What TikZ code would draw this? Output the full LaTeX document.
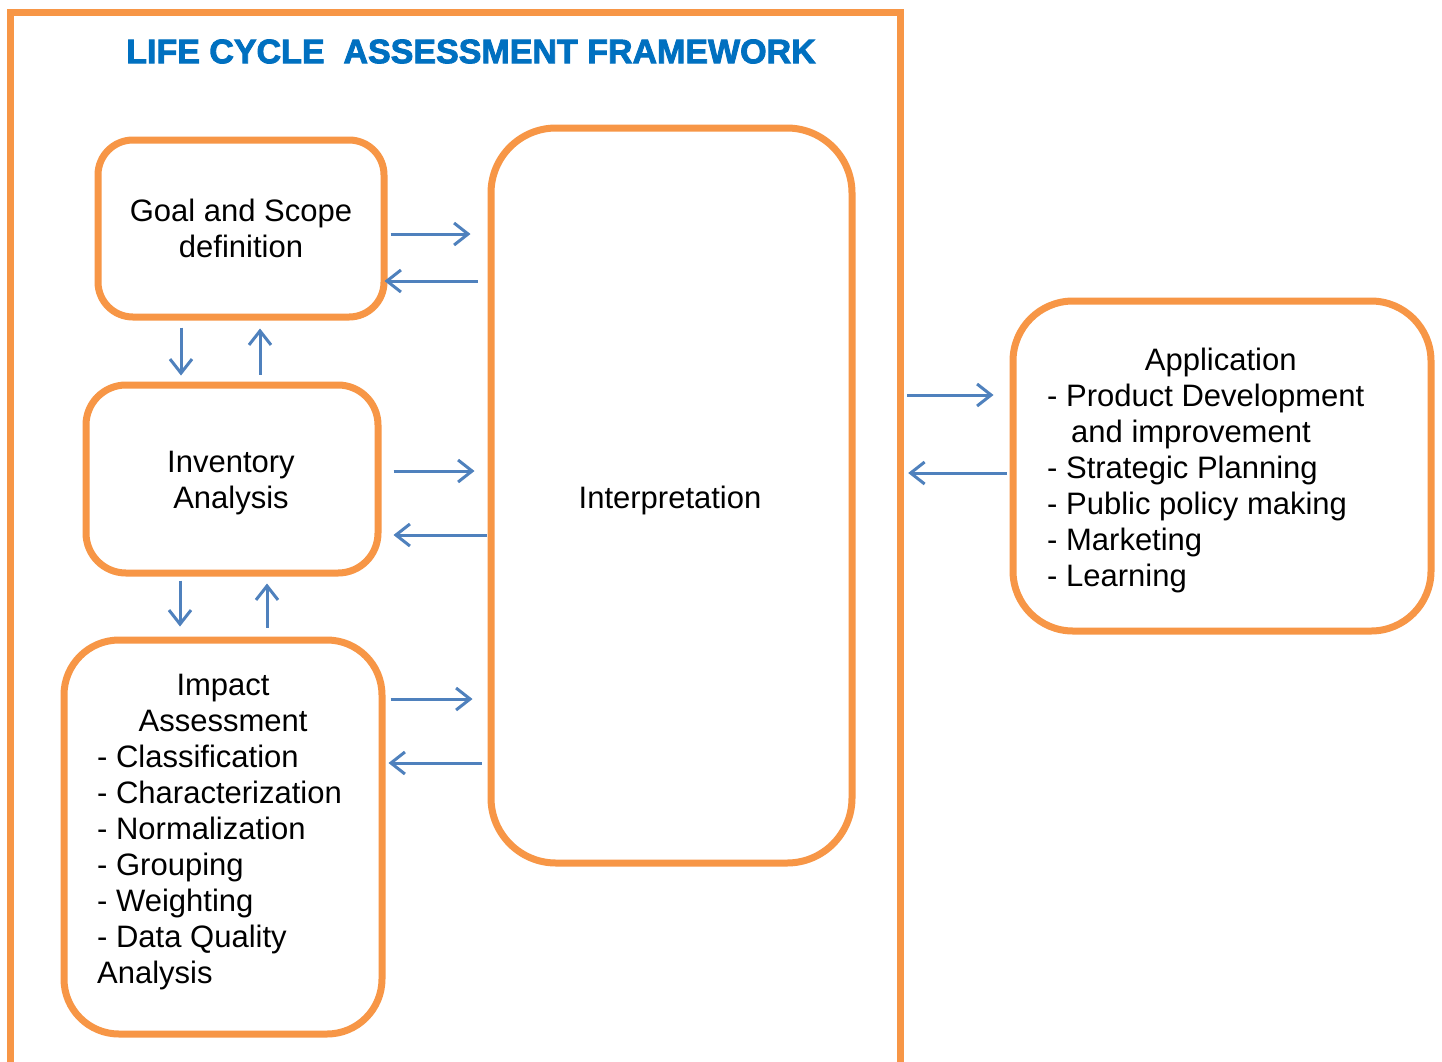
\documentclass[tikz,border=0pt]{standalone}
\usepackage{fontspec}
\setmainfont{Liberation Sans}
\newfontfamily\lcatitlefont[FakeBold=2.5]{Liberation Sans}
\usetikzlibrary{calc,arrows.meta}
\definecolor{lcaorange}{HTML}{F79646}
\definecolor{lcablue}{HTML}{4F81BD}
\definecolor{lcatitle}{HTML}{0070C0}
\tikzset{
  box/.style={draw=lcaorange, line width=7pt, fill=white, inner sep=0pt, align=center,
    font=\fontsize{31}{36}\selectfont},
  arr/.style={draw=lcablue, line width=3pt, -{Straight Barb[length=14pt,width=22pt,line width=3pt]}},
  txt/.style={inner sep=0pt, align=center, font=\fontsize{31}{36}\selectfont},
}
\begin{document}
\begin{tikzpicture}[x=1pt,y=-1pt]
\useasboundingbox[fill=white] (0,0) rectangle (1442,1061);
% outer frame (open at the bottom)
\node[inner sep=0pt, minimum width=889pt, minimum height=1062pt] (frame) at (455.5,544) {};
\draw[lcaorange, line width=7pt] (frame.south west) -- (frame.north west) -- (frame.north east) -- (frame.south east);
\node[inner sep=0pt, text=lcatitle, font=\fontsize{34}{40}\lcatitlefont\bfseries\selectfont] (title) at (471,51.5) {LIFE CYCLE\ \ ASSESSMENT FRAMEWORK};
% boxes
\node[box, rounded corners=35pt, minimum width=286pt, minimum height=177pt] (goal) at (241,228.5) {Goal and Scope\\definition};
\node[box, rounded corners=40pt, minimum width=292pt, minimum height=188pt] (inv) at (232,479) {};
\node[box, rounded corners=55pt, minimum width=318pt, minimum height=394pt] (imp) at (223,837) {};
\node[box, rounded corners=65pt, minimum width=361pt, minimum height=735pt] (interp) at (671.5,495.5) {};
\node[box, rounded corners=60pt, minimum width=418pt, minimum height=330pt] (app) at (1222,466) {};
% texts
\node[txt] (invtext) at (231,483.5) {Inventory\\Analysis};
\node[txt] (interptext) at (670,500) {Interpretation};
\node[txt, anchor=base west] (imptext) at (97,695) {\begin{tabular}[t]{@{}l@{}}
\multicolumn{1}{@{}c@{}}{\hspace{7pt}Impact}\\
\multicolumn{1}{@{}c@{}}{\hspace{7pt}Assessment}\\
- Classification\\
- Characterization\\
- Normalization\\
- Grouping\\
- Weighting\\
- Data Quality\\
Analysis
\end{tabular}};
\node[txt, anchor=base west] (apptext) at (1047,370) {\begin{tabular}[t]{@{}l@{}}
\multicolumn{1}{@{}c@{}}{\hspace{30pt}Application}\\
- Product Development\\
\hspace{24pt}and improvement\\
- Strategic Planning\\
- Public policy making\\
- Marketing\\
- Learning
\end{tabular}};
% arrows goal <-> interpretation
\draw[arr] ($(goal.east)+(3,5.5)$) -- ($(goal.east -| interp.west)+(-17,5.5)$);
\draw[arr] ($(goal.east -| interp.west)+(-10,52.5)$) -- ($(goal.east)+(-3,52.5)$);
% goal <-> inventory
\draw[arr] ($(goal.south)+(-60,7)$) -- ($(goal.south |- inv.north)+(-60,-6)$);
\draw[arr] ($(goal.south |- inv.north)+(19,-7)$) -- ($(goal.south)+(19,8)$);
% inventory <-> interpretation
\draw[arr] ($(inv.east)+(12,-8)$) -- ($(inv.east -| interp.west)+(-13,-8)$);
\draw[arr] ($(inv.east -| interp.west)+(-1,56)$) -- ($(inv.east)+(12,56)$);
% inventory <-> impact
\draw[arr] ($(inv.south)+(-52,4)$) -- ($(inv.south |- imp.north)+(-52,-10)$);
\draw[arr] ($(inv.south |- imp.north)+(35,-9)$) -- ($(inv.south)+(35,7)$);
% impact <-> interpretation
\draw[arr] ($(imp.east)+(5,-138)$) -- ($(imp.east -| interp.west)+(-15,-138)$);
\draw[arr] ($(imp.east -| interp.west)+(-6,-74)$) -- ($(imp.east)+(3,-74)$);
% frame <-> application
\draw[arr] ($(app.west -| frame.east)+(7,-71)$) -- ($(app.west)+(-16,-71)$);
\draw[arr] ($(app.west)+(-3,7)$) -- ($(app.west -| frame.east)+(8,7)$);
\end{tikzpicture}
\end{document}
